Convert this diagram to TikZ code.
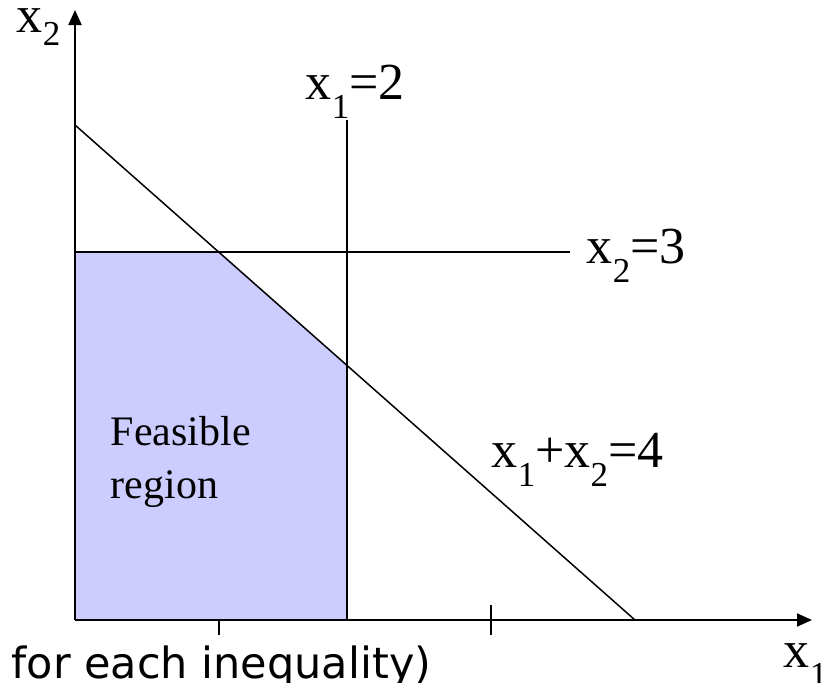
\documentclass[tikz,border=0pt]{standalone}
\usepackage{fontspec}
\setmainfont{Liberation Serif}
\newfontfamily\comicfont{DejaVu Sans}
\usetikzlibrary{arrows.meta}
\definecolor{feasible}{HTML}{CCCCFF}
\newcommand{\lowsub}[2][19pt]{\raisebox{-#1}{\fontsize{35}{35}\selectfont #2}}
\begin{document}
\begin{tikzpicture}[x=1pt,y=-1pt,line width=1.5pt,
  lbl/.style={inner sep=0pt,font=\fontsize{52}{56}\selectfont,anchor=base west},
  axis/.style={line width=2pt,-{Triangle[length=15pt,width=13pt]}},
  tick/.style={line width=1.5pt}]
\useasboundingbox (0,0) rectangle (836,683);
\coordinate (O) at (75,620);
\coordinate (ytop) at (75,10);
\coordinate (xend) at (812,620);
\coordinate (d1) at (75,125);
\coordinate (d2) at (635,620);
\coordinate (h1) at (75,252);
\coordinate (h2) at (570,252);
\coordinate (v1) at (347,120);
\coordinate (v2) at (347,620);
\coordinate (c1) at (218.7,252);
\coordinate (c2) at (347,365);
\fill[feasible] (O) -- (h1) -- (c1) -- (c2) -- (v2) -- cycle;
\draw (d1) -- (d2);
\draw (h1) -- (h2);
\draw (v1) -- (v2);
\draw[axis] (O) -- (ytop);
\draw[axis] (O) -- (xend);
\coordinate (t1a) at (219,620);
\coordinate (t1b) at (219,635);
\coordinate (t2a) at (491,605);
\coordinate (t2b) at (491,635);
\draw[tick] (t1a) -- (t1b);
\draw[tick] (t2a) -- (t2b);
\node[lbl] (lx2) at (16,32) {x\lowsub[13pt]{2}};
\node[lbl] (lv) at (305,99) {x\lowsub{1}=2};
\node[lbl] (lh) at (586,263) {x\lowsub{2}=3};
\node[lbl] (ld) at (491,467) {x\lowsub{1}+x\lowsub{2}=4};
\node[lbl] (lx1) at (783,667) {x\lowsub{1}};
\node[inner sep=0pt,anchor=base west,align=left,font=\fontsize{42}{53}\selectfont] (fr) at (110,498) {Feasible\\region};
\node[inner sep=0pt,anchor=base east,font=\comicfont\fontsize{43}{48}\selectfont] (note) at (432,678) {for each inequality)};
\end{tikzpicture}
\end{document}
